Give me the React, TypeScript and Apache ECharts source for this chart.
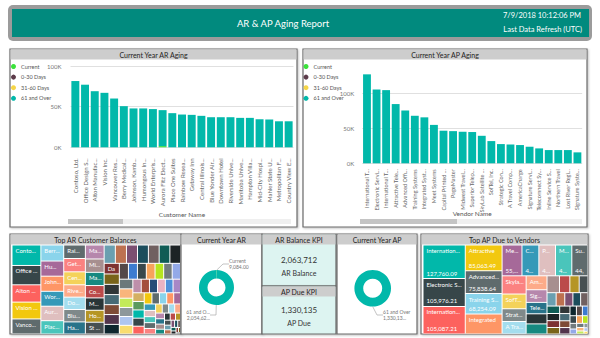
import React, { useEffect, useRef } from "react";
import * as echarts from "echarts";

const FONT = "Lato, 'Open Sans', sans-serif";

// ---- Bar chart data (Current Year AR / AP Aging) ----
const AGING_BUCKETS = ["Current", "0-30 Days", "31-60 Days", "61 and Over"];
const BUCKET_COLORS = ["#3CE23C", "#5C3B4A", "#F5D547", "#01B8AA"];

const AR_CUSTOMERS = [
  "Contoso, Ltd.", "Office Design S...", "Alton Manufac...", "Vision Inc.", "Vancouver Res...",
  "Berry Medical...", "Johnson, Kamb...", "Humongous In...", "World Enterpris...", "Aurora Fitz Elect...",
  "Place One Suites", "Rainbow Resea...", "Getaway Inn", "Central Illinois...", "Blue Yonder Air...",
  "Downtown Hotel", "Riverside Unive...", "Manitoba Unive...", "Hampton Villa...", "Mid-City Hospi...",
  "Mahler State U...", "Metropolitan F...", "Country View E...",
];
const AR_CURRENT = [0, 0, 0, 0, 0, 0, 0, 0, 0, 1500, 0, 0, 0, 0, 0, 0, 0, 0, 0, 0, 0, 0, 0];
const AR_OVER_61 = [
  81500, 77000, 69000, 67000, 60000, 50600, 47800, 47800, 47000, 44200, 42000, 40300, 39900,
  38700, 37000, 37000, 37000, 36200, 36200, 34600, 34200, 32000, 32000,
];

const AP_VENDORS = [
  "International T...", "Electronic Servi...", "International T...", "Attractive Tele...", "Advanced Offi...",
  "Training Systems", "Integrated Syst...", "Meet Systems", "Capital Printed ...", "PageMaster",
  "Midwest Travel...", "Superior Telep...", "SkyLab Satellite ...", "SofTel, Inc.", "Strategic Con...",
  "A Travel Comp...", "AmericaCharge", "Signature Servi...", "Telecomnect Sy...", "Inline Service S...",
  "Northern Travel", "Lost River Regi...", "Signature Syste...",
];
const AP_OVER_61 = [
  127760.09, 105976.21, 105087.21, 85063.49, 75838.64, 68254.09, 66000, 55160, 46800, 46200,
  45300, 44900, 39500, 31900, 27600, 27100, 26200, 23800, 21400, 19000, 19000, 19000, 15700,
];

const Y_TICK_STEP = 50000;
const AR_Y_MAX = 100000;
const AP_Y_MAX = 135000;

// ---- Donuts ----
const AR_DONUT = [
  { name: "Current", value: 9084, label: "Current\n9,084.00" },
  { name: "61 and Over", value: 2054628, label: "61 and O...\n2,054,62..." },
];
const AP_DONUT = [{ name: "61 and Over", value: 1330135, label: "61 and Over\n1,330,13..." }];

// ---- KPIs ----
const AR_BALANCE = "2,063,712";
const AP_DUE = "1,330,135";

// ---- Treemaps (values in thousands) ----
const PBI_PALETTE = [
  "#01B8AA", "#374649", "#FD625E", "#F2C80F", "#5F6B6D", "#8AD4EB", "#FE9666", "#A66999", "#3599B8", "#DFBFBF",
  "#4AC5BB", "#5F6B6D", "#FB8281", "#F4D25A", "#7F898A", "#A4DDEE", "#FDAB89", "#B687AC", "#28738A", "#A78F8F",
  "#168980", "#293537", "#BB4A4A", "#B59525", "#475052", "#6A9FB0", "#BD7150", "#7B4F71", "#1B4D5C", "#706060",
  "#0F5C55", "#1C2325", "#7D3231", "#796419", "#303637", "#476A75", "#7E4B36", "#52354C", "#0D262E", "#544848",
  "#3C7BD0", "#39474B", "#F7A35C", "#B6E51F", "#727B7E", "#93A9E8", "#6B787B", "#F9B57C", "#C3EA5A", "#8E989B",
  "#AFC6F0", "#F9DD6E", "#BE8FAA", "#A4503D", "#264D77", "#E8B3C2", "#4E91DA", "#A787C6", "#D4B062", "#5B9A5E",
];

const AR_TREE_VALUES = [
  81.5, 77, 69, 67, 60, 50.6, 47.8, 47.8, 47, 45.7, 42, 40.3, 39.9, 38.7, 37, 37, 37, 36.2, 36.2, 34.6,
  34.2, 32, 32, 31, 30.5,
  28.4, 28.1, 27.9, 27.6, 27.3, 27.1, 26.9,
  22.3, 21.8, 21.5, 21.1, 20.8, 20.6, 20.2,
  19.9, 19.7, 19.4, 19.1, 18.9, 18.6,
  18.2, 17.9, 17.5, 17.2, 16.8, 16.5, 16.1, 15.8, 15.4, 15.1,
  14.7, 14.4, 14.0, 13.7, 13.3, 13.0, 12.6, 12.3, 11.9, 11.6,
  11.2, 10.8, 10.5, 10.1, 9.8, 9.4, 9.1, 8.7, 8.4, 8.0,
  7.7, 7.3, 7.0, 6.6, 6.3, 5.9, 5.6, 5.2, 4.9, 4.5,
  4.2, 3.8, 3.5, 3.1, 2.8, 2.4, 2.1, 1.7, 1.4, 1.0,
];
const AR_TREE_LABELS = [
  "Contos...", "Office ...", "Alton ...", "Vision I...", "Vancou...", "Berry ...", "John...", "Hum...",
  "Worl...", "Auro...", "Place ...", "Rain...", "Geta...", "Cent...", "Blue ...", "Dow...", "Rive...",
  "Man...", "Ha...", "Mi...", "Ma...", "Me...", "Co...", "Hol...", "St ...",
  "", "", "", "", "", "", "", "Dar...",
];

const AP_TREE_VALUES = [
  127.76, 105.98, 105.09, 85.06, 75.84, 68.25, 66, 55.16, 46.8, 46.2, 45.3, 44.9, 39.5, 31.9, 27.6,
  27.1, 26.2, 23.8, 21.4, 19, 19, 19, 15.7,
  14.2, 13.4, 11.0, 10.4, 9.8, 9.3, 8.9, 8.5, 8.1, 7.8, 7.4, 7.0, 6.7, 6.3, 6.0, 5.6, 5.2, 4.9, 4.5,
  4.1, 3.8, 3.4, 3.0, 2.7, 2.3, 2.0, 1.6, 1.3, 1.0,
];
const AP_TREE_LABELS = [
  "International...", "Electronic Se...", "International...", "Attractive", "Advanced ...", "Training Sy...",
  "Integrated", "Mee...", "Ca...", "Pa...", "Mi...", "Su...", "Skyla...", "SofT...", "Strate...", "A Tra...",
  "Ame...", "Sign...", "Tele...",
];
const AP_TREE_VALUE_LABELS = [
  "127,760.09", "105,976.21", "105,087.21", "85,063.49", "75,838.64", "68,254.09", "",
  "55,16...", "46,8...", "46,2...", "45,3...", "44,9...",
];

function treeData(values: number[], labels: string[]) {
  return values.map((v, i) => ({
    name: labels[i] || "item " + (i + 1),
    value: v,
    itemStyle: { color: PBI_PALETTE[i % PBI_PALETTE.length] },
    label: { show: !!labels[i] },
  }));
}
function treeValueOverlay(values: number[], valueLabels: string[]) {
  return values.map((v, i) => ({
    name: "v" + (i + 1),
    value: v,
    itemStyle: { color: "rgba(0,0,0,0)" },
    label: { show: !!valueLabels[i], formatter: valueLabels[i] || "" },
  }));
}

function panel(x: number, y: number, w: number, h: number, title: string, bg = "#ffffff", titleH = 10) {
  return [
    {
      type: "rect",
      z: -10,
      shape: { x, y, width: w, height: h },
      style: { fill: bg, stroke: "#6a6a6a", lineWidth: 1.2, shadowBlur: 2, shadowColor: "rgba(0,0,0,0.25)", shadowOffsetX: 1, shadowOffsetY: 1 },
    },
    { type: "rect", z: -9, shape: { x: x + 0.6, y: y + 0.6, width: w - 1.2, height: titleH }, style: { fill: "#cdcdcd" } },
    {
      type: "text",
      z: 20,
      x: x + w / 2,
      y: y + 0.6 + titleH / 2,
      style: { text: title, fill: "#252423", fontSize: 7, fontFamily: FONT, align: "center", verticalAlign: "middle" },
    },
  ];
}

function barSeries(prefix: string, axis: number, current: number[], over: number[]) {
  return AGING_BUCKETS.map((name, i) => ({
    name,
    type: "bar",
    stack: prefix,
    xAxisIndex: axis,
    yAxisIndex: axis,
    barCategoryGap: "18%",
    itemStyle: { color: BUCKET_COLORS[i] },
    data: i === 0 ? current : i === 3 ? over : [],
  }));
}

export default function App() {
  const ref = useRef<HTMLDivElement>(null);
  useEffect(() => {
    if (!ref.current) return;
    const chart = echarts.init(ref.current, null, { renderer: "svg" });
    const axisLabelStyle = { fontSize: 6, color: "#666", fontFamily: FONT };
    const legendBase = {
      data: AGING_BUCKETS,
      orient: "vertical",
      icon: "circle",
      itemWidth: 5,
      itemHeight: 5,
      itemGap: 4.6,
      padding: 0,
      selectedMode: false,
      textStyle: { fontSize: 5.5, color: "#555", fontFamily: FONT },
    };
    const kFmt = (v: number) => v / 1000 + "K";

    const graphic: any[] = [
      { type: "rect", z: -10, shape: { x: 8, y: 5, width: 584, height: 36, r: 5 }, style: { fill: "#9b9b9b" } },
      { type: "rect", z: -9, shape: { x: 12, y: 9, width: 577, height: 28 }, style: { fill: "#018A7E" } },
      { type: "text", z: 20, x: 283, y: 23, style: { text: "AR & AP Aging Report", fill: "#fff", fontSize: 9.5, fontFamily: FONT, align: "center", verticalAlign: "middle" } },
      { type: "text", z: 20, x: 581, y: 15, style: { text: "7/9/2018 10:12:06 PM", fill: "#fff", fontSize: 7.5, fontFamily: FONT, align: "right", verticalAlign: "middle" } },
      { type: "text", z: 20, x: 582, y: 29, style: { text: "Last Data Refresh (UTC)", fill: "#fff", fontSize: 7.5, fontFamily: FONT, align: "right", verticalAlign: "middle" } },
      ...panel(10, 49, 287, 178, "Current Year AR Aging"),
      ...panel(303, 49, 284, 178, "Current Year AP Aging"),
      // scroll bars
      { type: "rect", z: -5, shape: { x: 68, y: 219, width: 223, height: 5 }, style: { fill: "#efefef" } },
      { type: "rect", z: -4, shape: { x: 68, y: 219, width: 55, height: 5 }, style: { fill: "#c4c4c4" } },
      { type: "rect", z: -5, shape: { x: 360, y: 219, width: 222, height: 5 }, style: { fill: "#efefef" } },
      { type: "rect", z: -4, shape: { x: 360, y: 219, width: 97, height: 5 }, style: { fill: "#c4c4c4" } },
      ...panel(10, 234, 171, 100, "Top AR Customer Balances"),
      ...panel(181, 234, 81, 100, "Current Year AR"),
      ...panel(262, 234, 74, 52, "AR Balance KPI", "#DDF4F1"),
      ...panel(262, 286, 74, 48, "AP Due KPI", "#DDF4F1"),
      ...panel(337, 234, 80, 100, "Current Year AP"),
      ...panel(421, 234, 167, 100, "Top AP Due to Vendors"),
      { type: "text", z: 20, x: 299, y: 260, style: { text: AR_BALANCE, fill: "#333", fontSize: 8, fontFamily: FONT, align: "center", verticalAlign: "middle" } },
      { type: "text", z: 20, x: 299, y: 273, style: { text: "AR Balance", fill: "#333", fontSize: 7, fontFamily: FONT, align: "center", verticalAlign: "middle" } },
      { type: "text", z: 20, x: 299, y: 310, style: { text: AP_DUE, fill: "#333", fontSize: 8, fontFamily: FONT, align: "center", verticalAlign: "middle" } },
      { type: "text", z: 20, x: 299, y: 323, style: { text: "AP Due", fill: "#333", fontSize: 7, fontFamily: FONT, align: "center", verticalAlign: "middle" } },
    ];

    const treeCommon = {
      type: "treemap",
      roam: false,
      nodeClick: false,
      breadcrumb: { show: false },
      visibleMin: 0,
      childrenVisibleMin: 0,
      itemStyle: { gapWidth: 1, borderWidth: 0, borderColor: "#ffffff" },
      upperLabel: { show: false },
      emphasis: { disabled: true },
      label: { show: true, position: "insideTopLeft", fontSize: 6, color: "#fff", fontFamily: FONT, padding: [2, 1, 1, 3], overflow: "truncate" },
    };

    const donutLabel = { show: true, fontSize: 5, color: "#777", fontFamily: FONT, lineHeight: 6.5, formatter: (p: any) => p.data.label };
    const donutLine = { show: true, length: 5, length2: 6, lineStyle: { color: "#aaa", width: 0.7 } };

    chart.setOption({
      animation: false,
      textStyle: { fontFamily: FONT },
      graphic,
      legend: [
        { ...legendBase, left: 11, top: 63.5 },
        { ...legendBase, left: 303.5, top: 63.5 },
      ],
      grid: [
        { left: 70.5, top: 66, width: 223, height: 81.3 },
        { left: 362.2, top: 69.3, width: 220, height: 94 },
      ],
      xAxis: [
        {
          type: "category", gridIndex: 0, data: AR_CUSTOMERS,
          axisLine: { show: false }, axisTick: { show: false },
          axisLabel: { ...axisLabelStyle, rotate: 90, interval: 0, margin: 11 },
          name: "Customer Name", nameLocation: "middle", nameGap: 64, nameMoveOverlap: false,
          nameTextStyle: { fontSize: 6.5, color: "#555", fontFamily: FONT },
        },
        {
          type: "category", gridIndex: 1, data: AP_VENDORS,
          axisLine: { show: false }, axisTick: { show: false },
          axisLabel: { ...axisLabelStyle, fontSize: 5.5, rotate: 90, interval: 0, margin: 6 },
          name: "Vendor Name", nameLocation: "middle", nameGap: 47, nameMoveOverlap: false,
          nameTextStyle: { fontSize: 6.5, color: "#555", fontFamily: FONT },
        },
      ],
      yAxis: [
        {
          type: "value", gridIndex: 0, min: 0, max: AR_Y_MAX, interval: Y_TICK_STEP,
          axisLabel: { ...axisLabelStyle, color: "#777", formatter: kFmt, margin: 9 },
          splitLine: { lineStyle: { color: "#e0e0e0", width: 1 } },
        },
        {
          type: "value", gridIndex: 1, min: 0, max: AP_Y_MAX, interval: Y_TICK_STEP,
          axisLabel: { ...axisLabelStyle, color: "#777", formatter: kFmt, margin: 8, showMaxLabel: false },
          splitLine: { showMaxLine: false, lineStyle: { color: "#e0e0e0", width: 1 } },
        },
      ],
      series: [
        ...barSeries("ar", 0, AR_CURRENT, AR_OVER_61),
        ...barSeries("ap", 1, [], AP_OVER_61),
        {
          type: "pie", name: "arDonut", center: [216.5, 287.5], radius: [9, 17.5], startAngle: 90,
          avoidLabelOverlap: false, silent: true, label: donutLabel, labelLine: donutLine,
          labelLayout: (p: any) =>
            p.dataIndex === 0
              ? { x: 229, y: 264, align: "left", verticalAlign: "middle" }
              : { x: 210, y: 315, align: "right", verticalAlign: "middle" },
          data: AR_DONUT.map((d, i) => ({ ...d, itemStyle: { color: i === 0 ? BUCKET_COLORS[0] : BUCKET_COLORS[3] } })),
        },
        {
          type: "pie", name: "apDonut", center: [372.7, 288.3], radius: [9.5, 18.3], startAngle: 90,
          avoidLabelOverlap: false, silent: true, label: donutLabel, labelLine: donutLine,
          labelLayout: () => ({ x: 383, y: 315, align: "left", verticalAlign: "middle" }),
          data: AP_DONUT.map((d) => ({ ...d, itemStyle: { color: BUCKET_COLORS[3] } })),
        },
        { ...treeCommon, left: 12.5, top: 245.5, width: 167.5, height: 88, data: treeData(AR_TREE_VALUES, AR_TREE_LABELS) },
        { ...treeCommon, left: 423.5, top: 245.5, width: 164, height: 88, data: treeData(AP_TREE_VALUES, AP_TREE_LABELS) },
        {
          ...treeCommon, silent: true, left: 423.5, top: 245.5, width: 164, height: 88,
          itemStyle: { gapWidth: 1, borderWidth: 0, borderColor: "rgba(0,0,0,0)" },
          label: { ...treeCommon.label, position: "insideBottomLeft", padding: [1, 1, 2, 3] },
          data: treeValueOverlay(AP_TREE_VALUES, AP_TREE_VALUE_LABELS),
        },
      ],
    });
    return () => chart.dispose();
  }, []);
  return <div ref={ref} style={{ position: "absolute", left: 0, top: 0, width: 600, height: 338 }} />;
}
